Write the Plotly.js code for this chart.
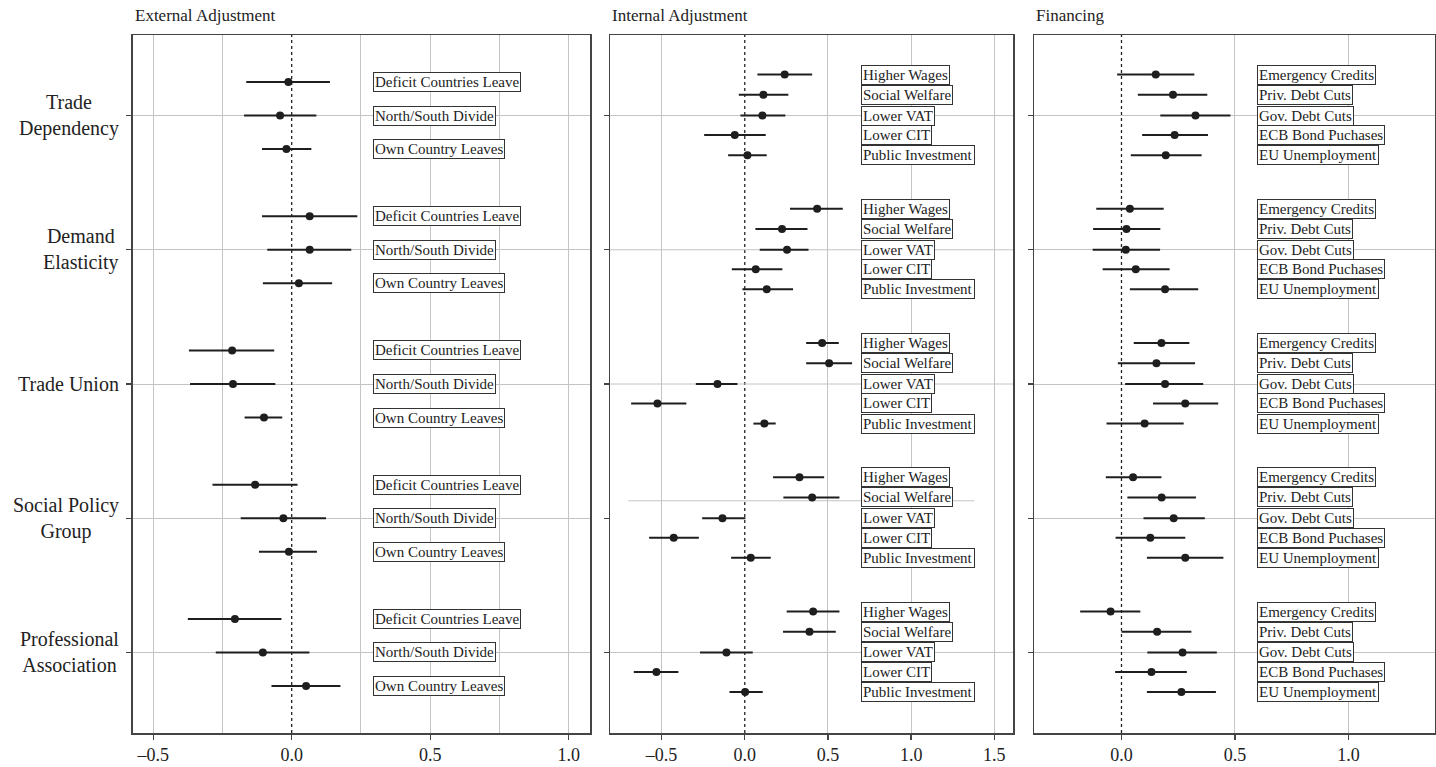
<!DOCTYPE html>
<html><head><meta charset="utf-8">
<script src="https://cdn.plot.ly/plotly-3.0.1.min.js"></script>
<style>html,body{margin:0;padding:0;background:#fff}#chart{width:1436px;height:767px}</style>
</head><body><div id="chart"></div>
<script>
// ---------- data ----------
const groups = ["Trade<br>Dependency", "Demand<br>Elasticity", "Trade Union", "Social Policy<br>Group", "Professional<br>Association"];

const extItems = ["Deficit Countries Leave", "North/South Divide", "Own Country Leaves"];
const extEst = [-0.012, -0.042, -0.019,  0.065, 0.065, 0.026,  -0.215, -0.212, -0.100,  -0.132, -0.030, -0.010,  -0.205, -0.104, 0.052];
const extLo  = [-0.164, -0.172, -0.107, -0.107, -0.088, -0.104, -0.371, -0.367, -0.170, -0.286, -0.184, -0.118, -0.375, -0.274, -0.073];
const extHi  = [0.138, 0.089, 0.071,  0.237, 0.215, 0.146,  -0.063, -0.059, -0.034,  0.021, 0.124, 0.091,  -0.037, 0.064, 0.176];

const intItems = ["Higher Wages", "Social Welfare", "Lower VAT", "Lower CIT", "Public Investment"];
const intEst = [0.240, 0.112, 0.106, -0.060, 0.016,  0.435, 0.224, 0.254, 0.066, 0.132,  0.465, 0.507, -0.164, -0.525, 0.118,  0.329, 0.405, -0.134, -0.427, 0.036,  0.411, 0.389, -0.110, -0.531, 0.002];
const intLo  = [0.076, -0.036, -0.026, -0.244, -0.100,  0.272, 0.064, 0.090, -0.078, -0.014,  0.369, 0.369, -0.294, -0.683, 0.052,  0.170, 0.232, -0.256, -0.575, -0.082,  0.252, 0.230, -0.269, -0.667, -0.092];
const intHi  = [0.405, 0.262, 0.244, 0.126, 0.132,  0.589, 0.377, 0.383, 0.226, 0.290,  0.565, 0.645, -0.044, -0.351, 0.186,  0.477, 0.569, 0.004, -0.276, 0.156,  0.569, 0.547, 0.048, -0.399, 0.108];

const finItems = ["Emergency Credits", "Priv. Debt Cuts", "Gov. Debt Cuts", "ECB Bond Puchases", "EU Unemployment"];
const finEst = [0.151, 0.227, 0.326, 0.234, 0.195,  0.037, 0.022, 0.019, 0.063, 0.192,  0.176, 0.154, 0.192, 0.281, 0.102,  0.051, 0.177, 0.230, 0.127, 0.281,  -0.048, 0.157, 0.269, 0.132, 0.264];
const finLo  = [-0.019, 0.072, 0.171, 0.091, 0.041,  -0.111, -0.125, -0.127, -0.083, 0.037,  0.054, -0.016, 0.016, 0.139, -0.066,  -0.069, 0.026, 0.097, -0.026, 0.112,  -0.182, 0.000, 0.114, -0.028, 0.112];
const finHi  = [0.321, 0.378, 0.480, 0.381, 0.353,  0.186, 0.171, 0.170, 0.212, 0.338,  0.299, 0.324, 0.360, 0.426, 0.274,  0.176, 0.328, 0.367, 0.281, 0.449,  0.083, 0.308, 0.420, 0.288, 0.416];

const panelTitles = ["External Adjustment", "Internal Adjustment", "Financing"];

// ---------- layout helpers ----------
const W = 1436, H = 767;
const FONT = "Liberation Serif, Times New Roman, serif";
const dark = "#1e1e1e";
const gridC = "#c4c4c4";
const yDom = [(H - 733) / H, (H - 35) / H];
const yRange = [5.6, 0.4];
const xDoms = [[132.7 / W, 590 / W], [610 / W, 1013.3 / W], [1034.3 / W, 1435 / W]];
const xRanges = [[-0.574, 1.077], [-0.81, 1.614], [-0.384, 1.381]];

function positions(nItems, offsets) {
  const ys = [];
  groups.forEach((g, gi) => { for (let i = 0; i < nItems; i++) ys.push(gi + 1 + offsets[i]); });
  return ys;
}
const off3 = [-0.25, 0, 0.25];
const off5 = [-0.305, -0.155, 0, 0.145, 0.295];

const panels = [
  {items: extItems, est: extEst, lo: extLo, hi: extHi, off: off3, labelX: 0.295},
  {items: intItems, est: intEst, lo: intLo, hi: intHi, off: off5, labelX: 0.70},
  {items: finItems, est: finEst, lo: finLo, hi: finHi, off: off5, labelX: 0.598}
];

const traces = [];
const annotations = [];
const shapes = [];
panels.forEach((p, k) => {
  const ys = positions(p.items.length, p.off);
  const xa = k === 0 ? "x" : "x" + (k + 1);
  const ya = k === 0 ? "y" : "y" + (k + 1);
  traces.push({
    type: "scatter", mode: "markers", xaxis: xa, yaxis: ya,
    x: p.est, y: ys,
    marker: {size: 8, color: dark},
    error_x: {type: "data", symmetric: false,
      array: p.est.map((v, i) => p.hi[i] - v),
      arrayminus: p.est.map((v, i) => v - p.lo[i]),
      color: dark, thickness: 2, width: 0},
    showlegend: false, hoverinfo: "x+y"
  });
  ys.forEach((y, i) => {
    annotations.push({
      xref: xa, yref: ya, x: p.labelX, y: y, xanchor: "left", yanchor: "middle",
      text: p.items[i % p.items.length], showarrow: false,
      font: {family: FONT, size: 15, color: "#222"},
      bgcolor: "white", bordercolor: "#333", borderwidth: 1, borderpad: 1
    });
  });
  annotations.push({
    xref: "paper", yref: "paper", x: xDoms[k][0], y: 1 - 15 / H, xanchor: "left", yanchor: "middle",
    text: panelTitles[k], showarrow: false, font: {family: FONT, size: 17, color: "#222"}
  });
  shapes.push({type: "line", xref: xa, yref: ya, x0: 0, x1: 0, y0: yRange[0], y1: yRange[1],
    line: {color: "#222", width: 1.3, dash: "dot"}, layer: "between"});
});

groups.forEach((g, gi) => {
  annotations.push({
    xref: "paper", yref: "y", x: 121 / W, y: gi + 1, xanchor: "right", yanchor: "middle", align: "center",
    text: g, showarrow: false, font: {family: FONT, size: 20, color: "#222"}
  });
});

// panel 2 horizontal grid lines (one is displaced in the original)
groups.forEach((g, gi) => {
  const yy = gi === 3 ? gi + 1 - 0.13 : gi + 1;
  const x0 = gi === 3 ? -0.70 : xRanges[1][0];
  const x1 = gi === 3 ? 1.38 : xRanges[1][1];
  shapes.push({type: "line", xref: "x2", yref: "y2", x0: x0, x1: x1, y0: yy, y1: yy,
    line: {color: gridC, width: 1}, layer: "between"});
});

function xAxis(dom, range, tickvals, gridvals, anchor) {
  return {
    domain: dom, range: range, anchor: anchor, tickvals: tickvals,
    ticktext: tickvals.map(v => v.toFixed(1).replace("-", "\u2013")),
    showgrid: false, zeroline: false,
    minor: {tickvals: gridvals, showgrid: true, gridcolor: gridC, gridwidth: 1, ticks: ""},
    showline: true, mirror: true, linecolor: "#444", linewidth: 1.5,
    ticks: "outside", ticklen: 5, tickcolor: "#444", tickwidth: 1.3,
    tickfont: {family: FONT, size: 18, color: "#222"}, automargin: false, fixedrange: true
  };
}
function yAxis(anchor, grid) {
  return {
    domain: yDom, range: yRange, anchor: anchor, tickvals: [1, 2, 3, 4, 5], showticklabels: false,
    showgrid: grid, gridcolor: gridC, gridwidth: 1, zeroline: false,
    showline: true, mirror: true, linecolor: "#444", linewidth: 1.5,
    ticks: "outside", ticklen: 5, tickcolor: "#444", tickwidth: 1.3, automargin: false, fixedrange: true
  };
}

const layout = {
  width: W, height: H, margin: {l: 0, r: 0, t: 0, b: 0},
  paper_bgcolor: "white", plot_bgcolor: "white",
  font: {family: FONT, color: "#222"},
  xaxis: xAxis(xDoms[0], xRanges[0], [-0.5, 0, 0.5, 1.0], [-0.5, -0.25, 0.25, 0.5, 0.75, 1.0], "y"),
  xaxis2: xAxis(xDoms[1], xRanges[1], [-0.5, 0, 0.5, 1.0, 1.5], [-0.5, 0.5, 1.0, 1.5], "y2"),
  xaxis3: xAxis(xDoms[2], xRanges[2], [0, 0.5, 1.0], [0.5, 1.0], "y3"),
  yaxis: yAxis("x", true),
  yaxis2: yAxis("x2", false),
  yaxis3: yAxis("x3", true),
  annotations: annotations, shapes: shapes, showlegend: false
};

Plotly.newPlot("chart", traces, layout, {displayModeBar: false, staticPlot: true});
</script></body></html>
